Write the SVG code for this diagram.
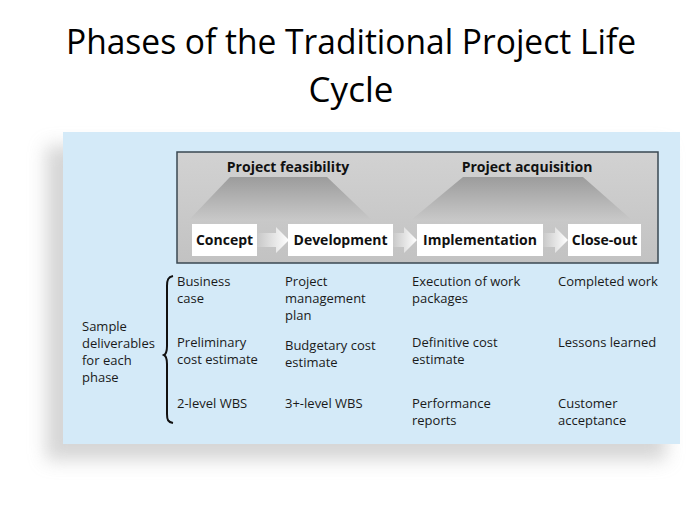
<svg xmlns="http://www.w3.org/2000/svg" width="700" height="525" viewBox="0 0 700 525">
<defs>
<filter id="blur" x="-20%" y="-20%" width="140%" height="140%"><feGaussianBlur stdDeviation="9"/></filter>
<linearGradient id="boxbg" x1="0" y1="0" x2="0" y2="1"><stop offset="0" stop-color="#d2d2d2"/><stop offset="1" stop-color="#c2c2c2"/></linearGradient>
<linearGradient id="trap" x1="0" y1="0" x2="0" y2="1"><stop offset="0" stop-color="#9c9c9c"/><stop offset="1" stop-color="#c9c9c9"/></linearGradient>
<linearGradient id="arr" x1="0" y1="0" x2="1" y2="0"><stop offset="0" stop-color="#c4c4c4"/><stop offset="1" stop-color="#ffffff"/></linearGradient>
<style>
.title{font-family:"Open Sans","Liberation Sans",sans-serif;font-size:35px;fill:#000;text-anchor:middle}
.hdr{font-family:"Open Sans","Liberation Sans",sans-serif;font-size:14px;font-weight:bold;fill:#111;text-anchor:middle}
.lbl{font-family:"Open Sans","Liberation Sans",sans-serif;font-size:14px;font-weight:bold;fill:#111;text-anchor:middle}
.txt{font-family:"Open Sans","Liberation Sans",sans-serif;font-size:13px;fill:#1a1a1a}
.wbox{fill:#ffffff}
.arrow{fill:url(#arr)}
</style>
</defs>
<rect width="700" height="525" fill="#ffffff"/>
<text class="title" x="351" y="54" textLength="570" lengthAdjust="spacingAndGlyphs">Phases of the Traditional Project Life</text>
<text class="title" x="351" y="102">Cycle</text>
<rect x="46" y="146" width="620" height="314" fill="#c4c4c4" opacity="0.7" filter="url(#blur)"/>
<rect x="63" y="132" width="617" height="312" fill="#d4eaf8"/>
<g id="phasebox">
<rect x="177" y="152" width="481" height="111" fill="url(#boxbg)" stroke="#3a4852" stroke-width="1.5"/>
<polygon points="230,177 327,177 373,221 188,221" fill="url(#trap)"/>
<polygon points="463,177 583,177 633,221 410,221" fill="url(#trap)"/>
<text class="hdr" x="288" y="172">Project feasibility</text>
<text class="hdr" x="527" y="172">Project acquisition</text>
</g>
<g id="connectors">
<polygon class="arrow" points="255,233 276,233 276,227 289,240 276,253 276,247 255,247"/>
<polygon class="arrow" points="391,233 404,233 404,227 417,240 404,253 404,247 391,247"/>
<polygon class="arrow" points="541,233 555,233 555,227 568,240 555,253 555,247 541,247"/>
</g>
<g id="concept"><rect class="wbox" x="192" y="224" width="65" height="32"/><text class="lbl" x="224.5" y="245">Concept</text></g>
<g id="development"><rect class="wbox" x="288" y="224" width="105" height="32"/><text class="lbl" x="340.5" y="245">Development</text></g>
<g id="implementation"><rect class="wbox" x="417" y="224" width="126" height="32"/><text class="lbl" x="480" y="245">Implementation</text></g>
<g id="closeout"><rect class="wbox" x="568" y="224" width="73" height="32"/><text class="lbl" x="604.5" y="245">Close-out</text></g>
<g id="brace">
<path d="M173,276 C168,277 167,280 167,286 L167,346 C167,351 166,354 164,355 C166,356 167,359 167,364 L167,414 C167,420 168,422 173,423" fill="none" stroke="#111" stroke-width="2"/>
</g>
<g id="sample">
<text class="txt" x="82" y="331">Sample</text>
<text class="txt" x="82" y="348">deliverables</text>
<text class="txt" x="82" y="365">for each</text>
<text class="txt" x="82" y="382">phase</text>
</g>
<g id="deliverables">
<text class="txt" x="177" y="286">Business</text>
<text class="txt" x="177" y="303">case</text>
<text class="txt" x="285" y="286">Project</text>
<text class="txt" x="285" y="303">management</text>
<text class="txt" x="285" y="320">plan</text>
<text class="txt" x="412" y="286">Execution of work</text>
<text class="txt" x="412" y="303">packages</text>
<text class="txt" x="558" y="286">Completed work</text>
<text class="txt" x="177" y="347">Preliminary</text>
<text class="txt" x="177" y="364">cost estimate</text>
<text class="txt" x="285" y="350">Budgetary cost</text>
<text class="txt" x="285" y="367">estimate</text>
<text class="txt" x="412" y="347">Definitive cost</text>
<text class="txt" x="412" y="364">estimate</text>
<text class="txt" x="558" y="347">Lessons learned</text>
<text class="txt" x="177" y="408">2-level WBS</text>
<text class="txt" x="285" y="408">3+-level WBS</text>
<text class="txt" x="412" y="408">Performance</text>
<text class="txt" x="412" y="425">reports</text>
<text class="txt" x="558" y="408">Customer</text>
<text class="txt" x="558" y="425">acceptance</text>
</g>
</svg>
